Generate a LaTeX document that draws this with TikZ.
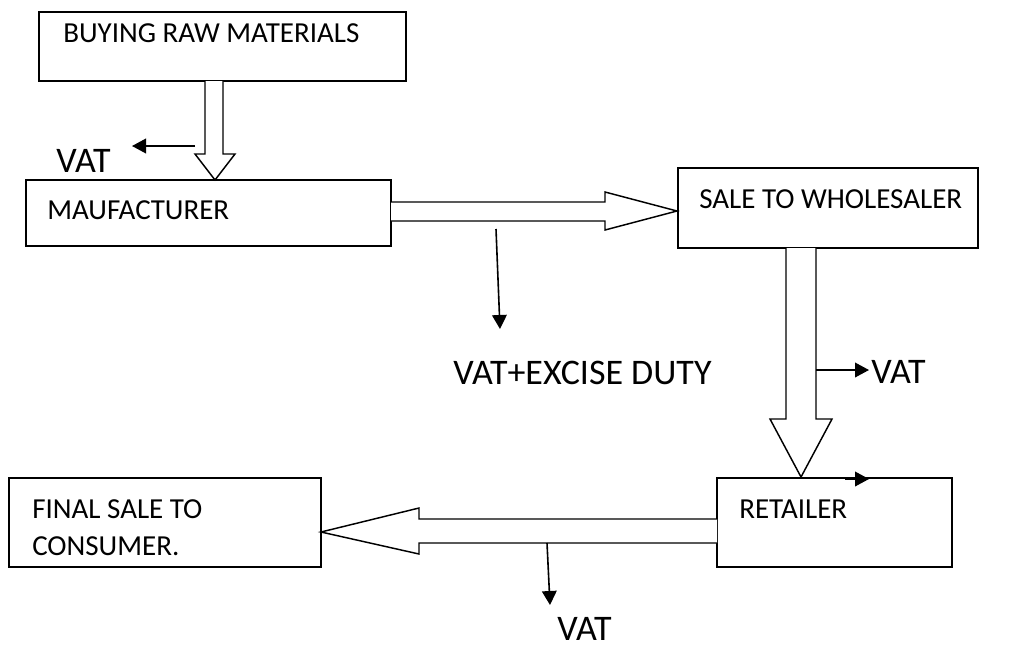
\documentclass[tikz,border=0pt]{standalone}
\usepackage{fontspec}
\setmainfont{Carlito}
\usetikzlibrary{arrows.meta,fit}
\begin{document}
\begin{tikzpicture}[x=0.75pt,y=-0.75pt,
  box/.style={draw=black,line width=1.5pt,inner sep=0pt},
  boxtext/.style={anchor=base west,inner sep=0pt,font=\fontsize{21.75pt}{27pt}\selectfont},
  bigtext/.style={anchor=base west,inner sep=0pt,font=\fontsize{27pt}{32pt}\selectfont},
  blockarrow/.style={draw=black,line width=1.1pt,fill=white,line join=miter},
  thinarrow/.style={draw=black,line width=1.2pt,-{Triangle[length=10.5pt,width=11pt]}}]
\useasboundingbox (0,0) rectangle (1019,647);
% corner coordinates
\coordinate (r1) at (39,12);  \coordinate (r2) at (406,81);
\coordinate (m1) at (26,180); \coordinate (m2) at (391,246);
\coordinate (w1) at (678,168); \coordinate (w2) at (978,248);
\coordinate (t1) at (717,478); \coordinate (t2) at (952,567);
\coordinate (f1) at (9,478);  \coordinate (f2) at (321,567);
% boxes
\node[box,fit=(r1)(r2)] (raw) {};
\node[box,fit=(m1)(m2)] (manu) {};
\node[box,fit=(w1)(w2)] (whole) {};
\node[box,fit=(t1)(t2)] (ret) {};
\node[box,fit=(f1)(f2)] (final) {};
% box texts
\node[boxtext] (trw) at (63,42) {BUYING RAW MATERIALS};
\node[boxtext] (tmf) at (47,219) {MAUFACTURER};
\node[boxtext] (twh) at (699,208) {SALE TO WHOLESALER};
\node[boxtext] (trt) at (739,518) {RETAILER};
\node[boxtext] (tf1) at (32,518) {FINAL SALE TO};
\node[boxtext] (tf2) at (32,555) {CONSUMER.};
% block arrows
\draw[blockarrow] (205,81) -- (205,154) -- (195,154) -- (215,180) -- (235,154) -- (223,154) -- (223,81);
\draw[blockarrow] (391,202) -- (605,202) -- (605,192) -- (677,211) -- (605,230) -- (605,221) -- (391,221);
\draw[blockarrow] (786,248) -- (786,419) -- (770,419) -- (801,477) -- (832,419) -- (816,419) -- (816,248);
\draw[blockarrow] (717,519) -- (419,519) -- (419,508) -- (321,532) -- (419,554) -- (419,543) -- (717,543);
% labels
\node[bigtext] (v1) at (56,172) {VAT};
\node[bigtext] (v2) at (453,384) {VAT+EXCISE DUTY};
\node[bigtext] (v3) at (871,383) {VAT};
\node[bigtext] (v4) at (557,640) {VAT};
% thin arrows
\coordinate (a1) at (195,146);
\coordinate (b1) at (132,146);
\coordinate (a2) at (496,229);
\coordinate (b2) at (500,329);
\coordinate (a3) at (816,370);
\coordinate (b3) at (869,370);
\coordinate (a4) at (845,479);
\coordinate (b4) at (869,479);
\coordinate (a5) at (547,543);
\coordinate (b5) at (550,605);
\draw[thinarrow] (a1) -- (b1);
\draw[thinarrow] (a2) -- (b2);
\draw[thinarrow] (a3) -- (b3);
\draw[thinarrow] (a4) -- (b4);
\draw[thinarrow] (a5) -- (b5);
\end{tikzpicture}
\end{document}
